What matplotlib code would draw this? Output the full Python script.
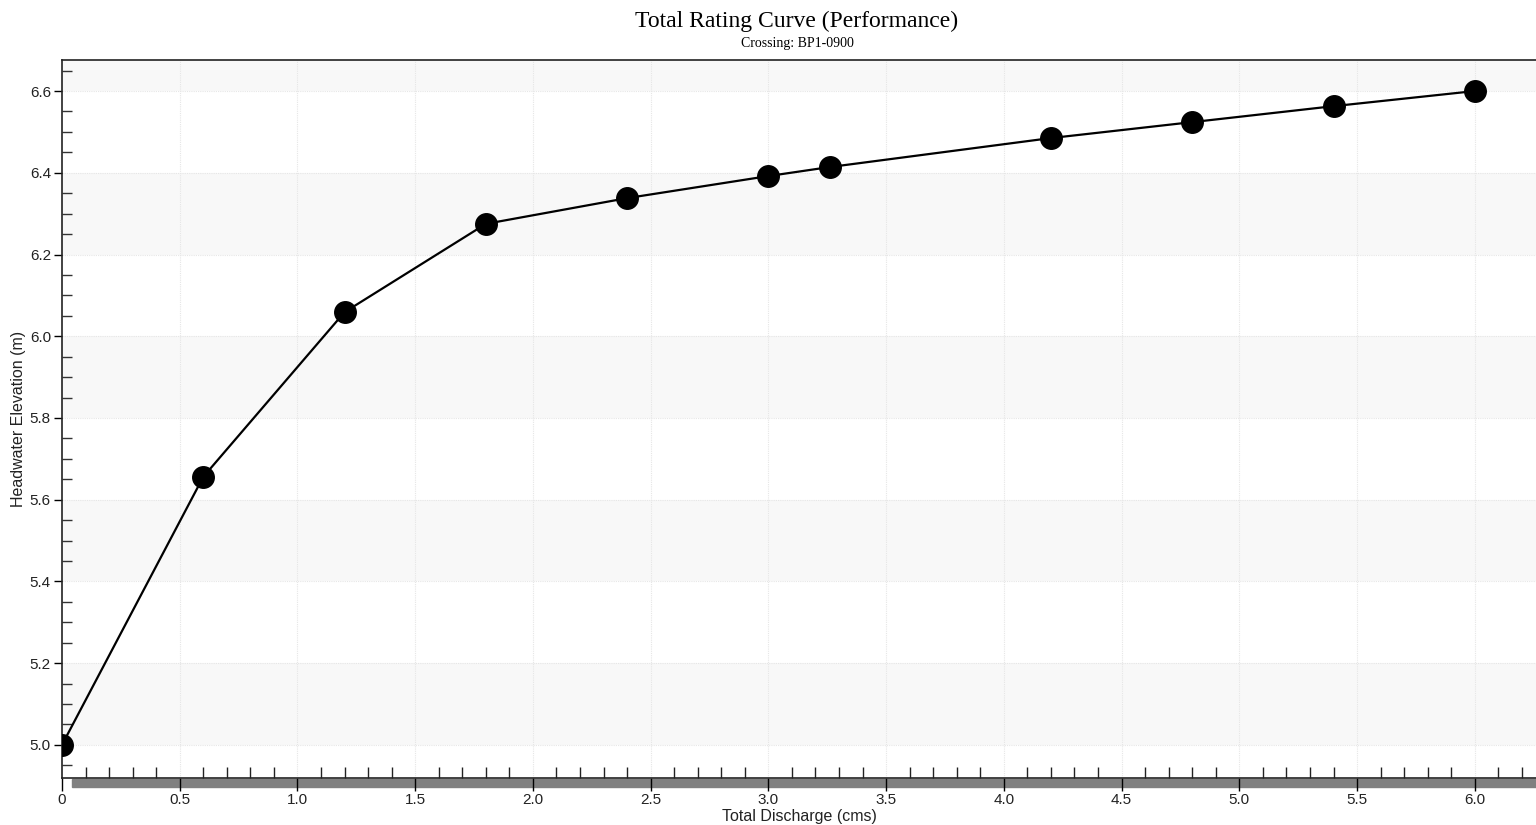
import numpy as np
import matplotlib.pyplot as plt
from matplotlib.patches import Rectangle
from matplotlib.ticker import MultipleLocator, FuncFormatter

# data
discharge = [0.0, 0.6, 1.2, 1.8, 2.4, 3.0, 3.26, 4.2, 4.8, 5.4, 6.0]
headwater = [5.0, 5.656, 6.059, 6.275, 6.338, 6.392, 6.414, 6.485, 6.524, 6.563, 6.6]

title = "Total Rating Curve (Performance)"
subtitle = "Crossing: BP1-0900"
xlabel = "Total Discharge (cms)"
ylabel = "Headwater Elevation (m)"

band_starts = [5.0, 5.4, 5.8, 6.2, 6.6]

plt.rcParams['font.family'] = ['Liberation Sans', 'DejaVu Sans']

fig = plt.figure(figsize=(15.36, 8.25), dpi=100)
ax = fig.add_axes([62 / 1536, 47 / 825, 1 - 62 / 1536, (778 - 60) / 825])

xmin, xmax = 0, 6.26
ymin, ymax = 4.919, 6.676
ax.set_xlim(xmin, xmax)
ax.set_ylim(ymin, ymax)

# alternating background bands
for b in band_starts:
    ax.axhspan(b, b + 0.2, color='#f8f8f8', lw=0, zorder=0)

# light dotted grid
for gx in np.arange(0.5, 6.3, 0.5):
    ax.axvline(gx, color='#e6e6e6', lw=0.8, ls=(0, (1, 1)), zorder=0.5)
for gy in np.arange(5.0, 6.7, 0.2):
    ax.axhline(gy, color='#e6e6e6', lw=0.8, ls=(0, (1, 1)), zorder=0.5)

# first marker is cut at the left axis in the original
ax.plot(discharge, headwater, color='black', lw=1.6, marker='o',
        markersize=15.5, markerfacecolor='black', markeredgecolor='black',
        zorder=3)

# ticks
ax.xaxis.set_major_locator(MultipleLocator(0.5))
ax.xaxis.set_minor_locator(MultipleLocator(0.1))
ax.yaxis.set_major_locator(MultipleLocator(0.2))
ax.yaxis.set_minor_locator(MultipleLocator(0.05))
ax.xaxis.set_major_formatter(FuncFormatter(lambda v, p: "0" if abs(v) < 1e-9 else f"{v:.1f}"))
ax.yaxis.set_major_formatter(FuncFormatter(lambda v, p: f"{v:.1f}"))

ax.tick_params(axis='x', which='major', direction='out', length=9, width=1,
               labelsize=11, colors='black', labelcolor='#222222', pad=2)
ax.tick_params(axis='x', which='minor', direction='in', length=8, width=1, colors='#222222')
ax.tick_params(axis='y', which='major', direction='out', length=6, width=1,
               labelsize=11, labelcolor='#222222', pad=2)
ax.tick_params(axis='y', which='minor', direction='in', length=7, width=1, colors='#333333')

for side in ['top', 'left', 'bottom']:
    ax.spines[side].set_color('#222222')
    ax.spines[side].set_linewidth(1.2)
ax.spines['right'].set_visible(False)

# gray scroll bar under x axis (drawn behind the axes so major ticks show)
fig.patches.append(Rectangle((72 / 1536, (825 - 787) / 825), 1 - 72 / 1536, 8 / 825,
                             transform=fig.transFigure, color='#808080', zorder=-1))

ax.set_xlabel(xlabel, fontsize=11.5, color='#222222', labelpad=1)
ax.set_ylabel(ylabel, fontsize=11.5, color='#222222', labelpad=3)

fig.text(797 / 1536, 1 - 21 / 825, title, ha='center', va='center',
         fontsize=17, family='Liberation Serif')
fig.text(797 / 1536, 1 - 43 / 825, subtitle, ha='center', va='center',
         fontsize=10, family='Liberation Serif')

fig.savefig('out.png', dpi=100)
